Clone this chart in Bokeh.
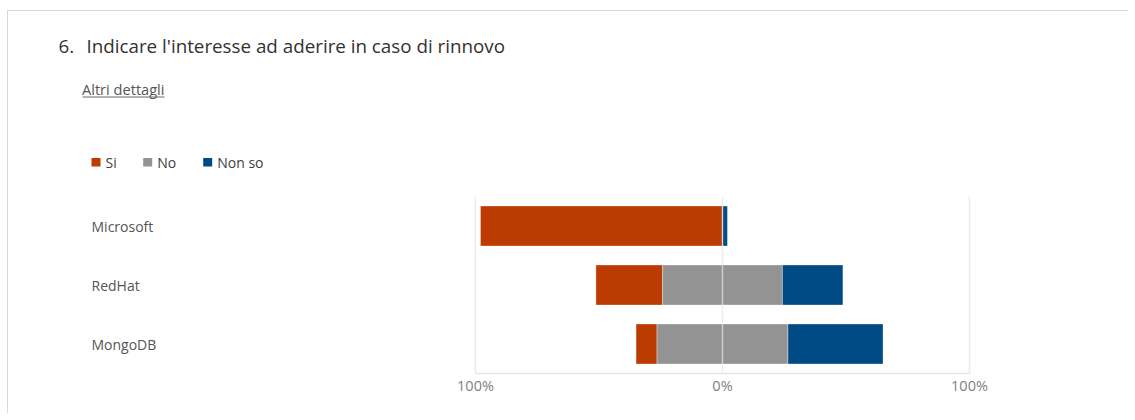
from bokeh.plotting import figure
from bokeh.layouts import column
from bokeh.models import (ColumnDataSource, FactorRange, Range1d, FixedTicker, Grid,
                          Label, LabelSet, BoxAnnotation)
from bokeh.core.properties import value
from bokeh.embed import file_html
from bokeh.resources import INLINE

# ---------------- data ----------------
categories = ["Microsoft", "RedHat", "MongoDB"]
si = [98.0, 27.0, 8.5]
no = [0.0, 48.5, 53.0]
non_so = [2.0, 24.5, 38.5]
series_labels = ["Si", "No", "Non so"]
series_colors = ["#BB3B00", "#939393", "#004B85"]
tick_values = [-100, 0, 100]
tick_labels = ["100%", "0%", "100%"]
title_number = "6."
title_text = "Indicare l'interesse ad aderire in caso di rinnovo"
link_text = "Altri dettagli"

# diverging layout: "No" centred on zero, "Si" to the left, "Non so" to the right
si_left = [-(n / 2 + s) for s, n in zip(si, no)]
si_right = [-n / 2 for n in no]
no_left = [-n / 2 for n in no]
no_right = [n / 2 for n in no]
ns_left = [n / 2 for n in no]
ns_right = [n / 2 + k for n, k in zip(no, non_so)]

source = ColumnDataSource(dict(cat=categories, si_l=si_left, si_r=si_right,
                               no_l=no_left, no_r=no_right,
                               ns_l=ns_left, ns_r=ns_right))

# ---------------- layout constants (window pixels) ----------------
OX, OY = 8, 11            # where the card content starts (after margin + border)
WC = 1120                 # content width
HH = 180                  # header height
CH = 222                  # chart figure height
CHART_TOP = OY + HH       # window y where chart figure starts
FRAME_T, FRAME_B = 196, 373
X_M100, X_P100 = 475, 969  # window x of -100% and +100%
PPU = (X_P100 - X_M100) / 200.0


def hx(wx):
    return wx - OX


def hy(wy):
    return (OY + HH) - wy


FONT = "Open Sans"

# ---------------- header figure (title, link, legend) ----------------
hdr = figure(width=WC, height=HH, output_backend="svg", toolbar_location=None,
             x_range=Range1d(0, 1), y_range=Range1d(0, 1),
             x_axis_type=None, y_axis_type=None,
             min_border=0, min_border_left=0, min_border_right=0,
             min_border_top=0, min_border_bottom=0)
hdr.outline_line_color = None
hdr.grid.visible = False

hdr.add_layout(Label(x=hx(58), y=hy(45.6), x_units="screen", y_units="screen",
                     text=title_number, text_font=FONT, text_font_size="18.8px",
                     text_color="#323130", text_baseline="middle"))
hdr.add_layout(Label(x=hx(86), y=hy(45.6), x_units="screen", y_units="screen",
                     text=title_text, text_font=FONT, text_font_size="18.8px",
                     text_color="#323130", text_baseline="middle"))
hdr.add_layout(Label(x=hx(81.5), y=hy(88), x_units="screen", y_units="screen",
                     text=link_text, text_font=FONT, text_font_size="14.6px",
                     text_color="#555555", text_baseline="middle"))
hdr.add_layout(BoxAnnotation(left=hx(82), right=hx(164), top=hy(96.0), bottom=hy(97.0),
                             left_units="screen", right_units="screen",
                             top_units="screen", bottom_units="screen",
                             fill_color="#6a6a6a", fill_alpha=1.0, line_color=None))

legend_x = [91, 142.7, 202.7]   # left edge of each legend swatch (layout)
for lx, lab, col in zip(legend_x, series_labels, series_colors):
    hdr.add_layout(BoxAnnotation(left=hx(lx), right=hx(lx + 9), top=hy(157.5), bottom=hy(166),
                                 left_units="screen", right_units="screen",
                                 top_units="screen", bottom_units="screen",
                                 fill_color=col, fill_alpha=1.0, line_color=None))
    hdr.add_layout(Label(x=hx(lx + 14), y=hy(162), x_units="screen", y_units="screen",
                         text=lab, text_font=FONT, text_font_size="14px",
                         text_color="#404040", text_baseline="middle"))

# ---------------- chart figure ----------------
x_start = -100 - (X_M100 - OX) / PPU
x_end = 100 + (OX + WC - X_P100) / PPU
mbt = FRAME_T - CHART_TOP
mbb = CH - mbt - (FRAME_B - FRAME_T)

p = figure(width=WC, height=CH, output_backend="svg", toolbar_location=None,
           y_range=FactorRange(*reversed(categories), range_padding=0),
           x_range=Range1d(x_start, x_end),
           min_border_left=0, min_border_right=0,
           min_border_top=mbt, min_border_bottom=mbb)
p.outline_line_color = None
p.yaxis.visible = False
p.xgrid.visible = False
p.ygrid.visible = False

ax = p.xaxis[0]
ax.ticker = FixedTicker(ticks=tick_values)
ax.major_label_overrides = {v: t for v, t in zip(tick_values, tick_labels)}
ax.bounds = (tick_values[0], tick_values[-1])
ax.axis_line_color = "#e6e6e6"
ax.axis_line_width = 1.5
ax.major_tick_line_color = None
ax.minor_tick_line_color = None
ax.major_tick_out = 0
ax.major_tick_in = 0
ax.major_label_standoff = 2
ax.major_label_text_font = FONT
ax.major_label_text_font_size = "14.5px"
ax.major_label_text_color = "#7f7f7f"

g_outer = Grid(dimension=0, ticker=FixedTicker(ticks=[tick_values[0], tick_values[-1]]),
               grid_line_color="#ebebeb", grid_line_width=1.5, level="underlay")
g_zero = Grid(dimension=0, ticker=FixedTicker(ticks=[tick_values[1]]),
              grid_line_color="#e6e6e6", grid_line_alpha=0.7, grid_line_width=1.5,
              level="overlay")
p.add_layout(g_outer)
p.add_layout(g_zero)

bar_h = 0.68
for lcol, rcol, col in [("si_l", "si_r", series_colors[0]),
                        ("no_l", "no_r", series_colors[1]),
                        ("ns_l", "ns_r", series_colors[2])]:
    p.hbar(y="cat", left=lcol, right=rcol, height=bar_h, source=source,
           fill_color=col, line_color="white", line_alpha=0.35)

cat_src = ColumnDataSource(dict(cat=categories))
p.add_layout(LabelSet(x=91 - OX, y="cat", text="cat", source=cat_src, x_units="screen",
                      text_baseline="middle", text_align="left",
                      text_font=value(FONT), text_font_size=value("14px"),
                      text_color="#555555"))

layout = column(hdr, p, spacing=0,
                styles={"margin-left": "7px", "margin-top": "10px",
                        "border-left": "1px solid #d9d9d9",
                        "border-top": "1px solid #d9d9d9"})

open("out.html", "w").write(file_html(layout, INLINE))
